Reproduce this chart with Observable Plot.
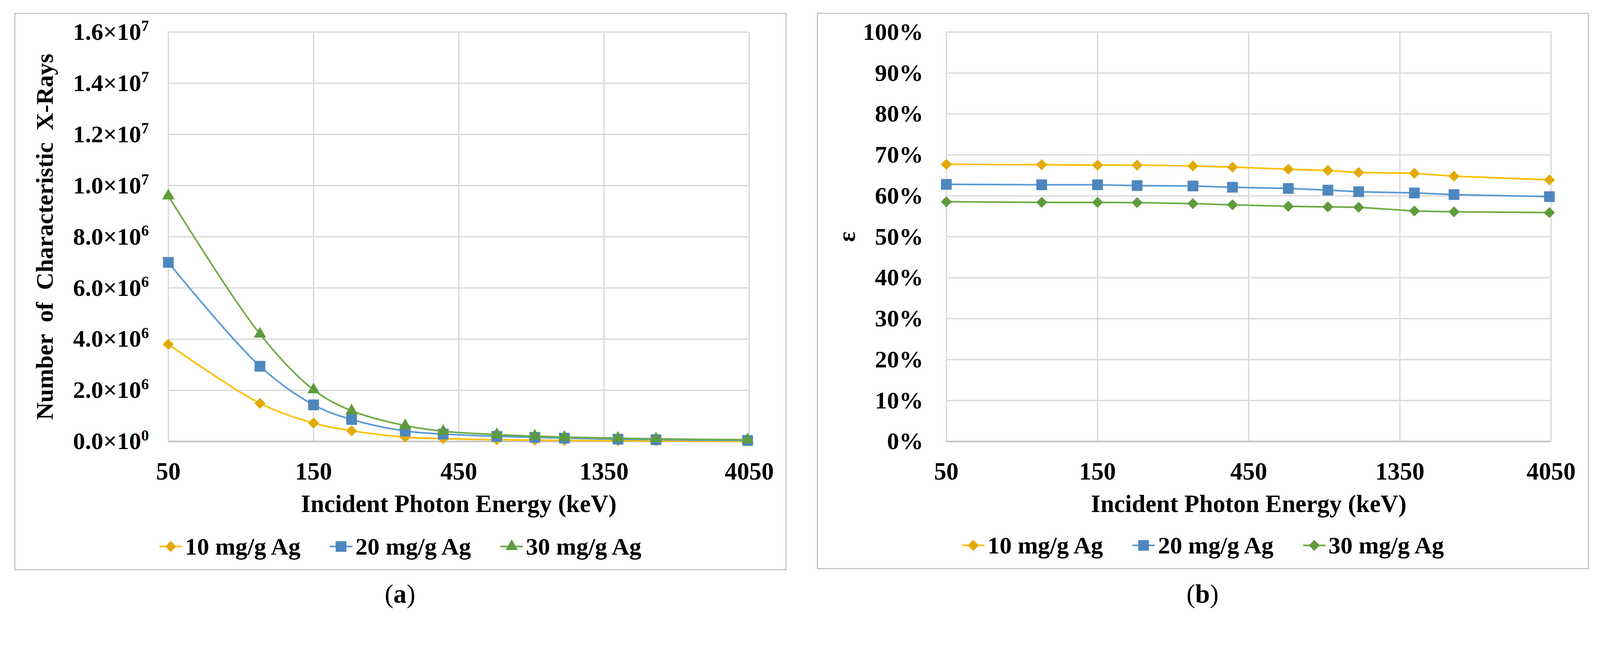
<!DOCTYPE html>
<html>
<head>
<meta charset="utf-8">
<script src="https://cdn.jsdelivr.net/npm/d3@7"></script>
<script src="https://cdn.jsdelivr.net/npm/@observablehq/plot@0.6"></script>
<style>
  html, body { margin: 0; padding: 0; background: #ffffff; width: 100%; height: 100%; overflow: hidden; }
  body { font-family: "Liberation Serif", "Times New Roman", serif; color: #000; }
  #stage { position: absolute; left: 0; top: 0; width: 4368px; height: 1663px; transform-origin: 0 0; background: #fff; }
  .panel { position: absolute; box-sizing: border-box; border: 3px solid #c0c0c0; background: #fff; }
  .panel svg.plot { position: absolute; left: 0; top: 0; }
  .legend { position: absolute; left: 0; right: 0; display: flex; justify-content: center;
            align-items: center; gap: 80px; font-weight: bold; font-size: 66px; line-height: 1; }
  .legend .item { display: flex; align-items: center; white-space: nowrap; }
  .legend .item svg { margin-right: 8px; }
  .caption { position: absolute; font-size: 72px; line-height: 1; transform: translateX(-50%); white-space: nowrap; }
</style>
</head>
<body>
<div id="stage">
  <div id="panelA" class="panel" style="left:39px; top:35px; width:2108px; height:1521px;">
    <div id="legendA" class="legend" style="top:1420px;"></div>
  </div>
  <div id="panelB" class="panel" style="left:2230px; top:35px; width:2108px; height:1518px;">
    <div id="legendB" class="legend" style="top:1417px;"></div>
  </div>
  <div class="caption" style="left:1092px; top:1584px;">(<b>a</b>)</div>
  <div class="caption" style="left:3283px; top:1584px;">(<b>b</b>)</div>
</div>

<script>
// ---------- data ----------
const energies = [50, 100, 150, 200, 300, 400, 600, 800, 1000, 1500, 2000, 4000];
const seriesNames = ["10 mg/g Ag", "20 mg/g Ag", "30 mg/g Ag"];
const xTicks = [50, 150, 450, 1350, 4050];
const countTicks = [0, 2e6, 4e6, 6e6, 8e6, 1e7, 1.2e7, 1.4e7, 1.6e7];
const efficiencyTicks = [0, 10, 20, 30, 40, 50, 60, 70, 80, 90, 100];

// (a) number of characteristic X-rays
const counts10 = [3.80e6, 1.49e6, 0.72e6, 0.42e6, 0.17e6, 0.11e6, 0.07e6, 0.05e6, 0.04e6, 0.03e6, 0.025e6, 0.01e6];
const counts20 = [7.00e6, 2.94e6, 1.43e6, 0.86e6, 0.41e6, 0.29e6, 0.20e6, 0.16e6, 0.13e6, 0.09e6, 0.07e6, 0.04e6];
const counts30 = [9.60e6, 4.20e6, 2.02e6, 1.20e6, 0.62e6, 0.40e6, 0.27e6, 0.21e6, 0.17e6, 0.13e6, 0.10e6, 0.07e6];

// (b) efficiency epsilon (%)
const eff10 = [67.7, 67.6, 67.5, 67.5, 67.3, 67.0, 66.5, 66.2, 65.7, 65.5, 64.8, 63.9];
const eff20 = [62.8, 62.7, 62.7, 62.5, 62.4, 62.1, 61.8, 61.4, 61.0, 60.7, 60.3, 59.8];
const eff30 = [58.55, 58.4, 58.4, 58.35, 58.1, 57.8, 57.45, 57.3, 57.2, 56.3, 56.1, 55.9];

// ---------- styles ----------
const lineColors = ["#FFC000", "#5B9BD5", "#70AD47"];
const markerColors = ["#E2AA00", "#4E86BE", "#5F9B3C"];
const symbolsA = ["diamond2", "square", "triangle"];
const symbolsB = ["diamond2", "square", "diamond2"];
const symbolR = {diamond2: 13.5, square: 16.5, triangle: 12.5};
const d3Symbols = {diamond2: d3.symbolDiamond2, square: d3.symbolSquare, triangle: d3.symbolTriangle};
const FONT = '"Liberation Serif", "Times New Roman", serif';

// fit the 4368-wide layout to the actual viewport
const stage = document.getElementById("stage");
const fit = window.innerWidth / 4368;
stage.style.transform = `scale(${fit})`;

function toRows(valueSets) {
  const rows = [];
  valueSets.forEach((vals, i) => {
    energies.forEach((e, j) => rows.push({energy: e, value: vals[j], series: seriesNames[i]}));
  });
  return rows;
}

function sciLabel(d) {
  if (d === 0) return "0.0×10^0";
  const exp = Math.floor(Math.log10(d) + 1e-9);
  const mant = d / Math.pow(10, exp);
  return mant.toFixed(1) + "×10^" + exp;
}

function seriesMarks(rows, symbols, curve) {
  const marks = [];
  seriesNames.forEach((name, i) => {
    const data = rows.filter(r => r.series === name);
    marks.push(Plot.line(data, {x: "energy", y: "value", stroke: lineColors[i], strokeWidth: 4.5, curve}));
    marks.push(Plot.dot(data, {x: "energy", y: "value", symbol: symbols[i], r: symbolR[symbols[i]],
      fill: markerColors[i], stroke: "none"}));
  });
  return marks;
}

function buildPanel(container, cfg) {
  const rows = toRows(cfg.values);
  const svg = Plot.plot({
    width: 2102,
    height: 1460,
    marginLeft: cfg.marginLeft,
    marginRight: cfg.marginRight,
    marginTop: 49,
    marginBottom: 294,
    style: {fontFamily: FONT, fontSize: "66px", fontWeight: "bold", color: "#000", background: "transparent", overflow: "visible"},
    x: {type: "log", base: 3, domain: [50, 4050]},
    y: {domain: cfg.yDomain},
    marks: [
      Plot.gridX(xTicks, {stroke: "#d9d9d9", strokeOpacity: 1, strokeWidth: 3.5}),
      Plot.gridY(cfg.yTicks, {stroke: "#d9d9d9", strokeOpacity: 1, strokeWidth: 3.5}),
      Plot.ruleY([cfg.yDomain[0]], {stroke: "#bfbfbf", strokeWidth: 3.5}),
      Plot.axisX({ticks: xTicks, tickFormat: d => String(d), tickSize: 0, tickPadding: 56,
        label: "Incident Photon Energy (keV)", labelAnchor: "center", labelOffset: 192, labelArrow: "none",
        fontSize: 67}),
      Plot.axisY({ticks: cfg.yTicks, tickFormat: cfg.tickFormat, tickSize: 0, tickPadding: cfg.yPad,
        label: cfg.yLabel, labelAnchor: "center", labelOffset: cfg.yLabelOffset, labelArrow: "none"}),
      ...seriesMarks(rows, cfg.symbols, cfg.curve)
    ]
  });
  svg.classList.add("plot");
  // render exponents as superscripts
  d3.select(svg).selectAll('g[aria-label="y-axis tick label"] text').each(function() {
    const t = this.textContent;
    const k = t.indexOf("^");
    if (k >= 0) {
      const base = t.slice(0, k), exp = t.slice(k + 1);
      const sel = d3.select(this);
      sel.text(base);
      sel.append("tspan").attr("font-size", "42px").attr("dy", "-24px").text(exp);
    }
  });
  container.insertBefore(svg, container.firstChild);

  // legend
  const legend = d3.select(cfg.legend);
  seriesNames.forEach((name, i) => {
    const item = legend.append("div").attr("class", "item");
    const sw = item.append("svg").attr("width", 62).attr("height", 40);
    sw.append("line").attr("x1", 0).attr("x2", 62).attr("y1", 20).attr("y2", 20)
      .attr("stroke", lineColors[i]).attr("stroke-width", 4.5);
    const sym = cfg.symbols[i];
    const r = symbolR[sym];
    sw.append("path").attr("transform", "translate(31,20)")
      .attr("d", d3.symbol(d3Symbols[sym], Math.PI * r * r)())
      .attr("fill", markerColors[i]);
    item.append("span").text(name);
  });
}

buildPanel(document.getElementById("panelA"), {
  values: [counts10, counts20, counts30],
  yDomain: [0, 1.6e7],
  yTicks: countTicks,
  tickFormat: sciLabel,
  yPad: 53,
  yLabel: "Number  of  Characteristic  X-Rays",
  yLabelOffset: 362,
  marginLeft: 417,
  marginRight: 99,
  symbols: symbolsA,
  curve: "catmull-rom",
  legend: "#legendA"
});

buildPanel(document.getElementById("panelB"), {
  values: [eff10, eff20, eff30],
  yDomain: [0, 100],
  yTicks: efficiencyTicks,
  tickFormat: d => d + "%",
  yPad: 63,
  yLabel: "ε",
  yLabelOffset: 297,
  marginLeft: 350,
  marginRight: 101,
  symbols: symbolsB,
  curve: "linear",
  legend: "#legendB"
});
</script>
</body>
</html>
